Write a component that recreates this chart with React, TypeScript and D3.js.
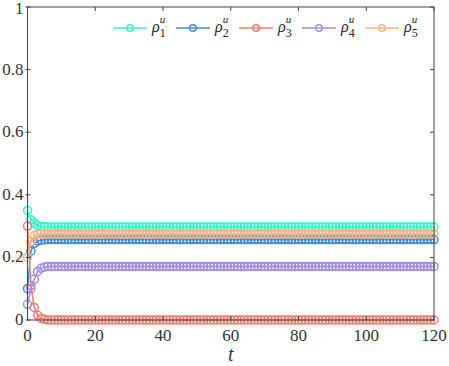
import * as d3 from 'd3';

// time steps 0..120
const tSteps = d3.range(0, 121);

// transient values (t = 0..5), then steady state
const rho1Start = [0.35, 0.32, 0.31, 0.302, 0.299, 0.298];
const rho2Start = [0.1, 0.22, 0.245, 0.252, 0.255, 0.256];
const rho3Start = [0.3, 0.11, 0.04, 0.015, 0.005, 0.002];
const rho4Start = [0.05, 0.1, 0.13, 0.155, 0.165, 0.169];
const rho5Start = [0.2, 0.25, 0.27, 0.274, 0.275, 0.275];
const steady = [0.297, 0.257, 0.0, 0.171, 0.275];

const seriesNames = ['1', '2', '3', '4', '5'];
const colors = ['#36f5c6', '#3d8fd8', '#f07c6c', '#a38ee2', '#f8b482'];
const starts = [rho1Start, rho2Start, rho3Start, rho4Start, rho5Start];

const yTicks = [0, 0.2, 0.4, 0.6, 0.8, 1];
const xTicks = [0, 20, 40, 60, 80, 100, 120];

type Pt = { t: number; v: number };
const series: Pt[][] = starts.map((s, i) =>
  tSteps.map(t => ({ t, v: t < s.length ? s[t] : steady[i] }))
);

const width = 449;
const height = 366;
const margin = { top: 7, right: 15, bottom: 46, left: 27.5 };
const font = "'Liberation Serif', 'DejaVu Serif', serif";
const axisColor = '#444';

const x = d3.scaleLinear().domain([0, 120]).range([margin.left, width - margin.right]);
const y = d3.scaleLinear().domain([0, 1]).range([height - margin.bottom, margin.top]);
const line = d3.line<Pt>().x(d => x(d.t)).y(d => y(d.v));

const App = () => {
  const [x0, x1] = x.range();
  const [y0, y1] = y.range();

  return (
    <svg width={width} height={height}
      style={{ position: 'absolute', left: 0, top: 0, fontFamily: font }}>
      {series.map((data, i) => (
        <g key={i}>
          <path d={line(data) || ''} fill="none" stroke={colors[i]} strokeWidth={1.5} />
          {data.map(d => (
            <circle key={d.t} cx={x(d.t)} cy={y(d.v)} r={4}
              fill="none" stroke={colors[i]} strokeWidth={1.5} />
          ))}
        </g>
      ))}

      {/* frame */}
      <rect x={x0} y={y1} width={x1 - x0} height={y0 - y1}
        fill="none" stroke={axisColor} strokeWidth={1} />

      {/* x ticks, inward */}
      {xTicks.map(t => (
        <g key={'x' + t}>
          <line x1={x(t)} x2={x(t)} y1={y0} y2={y0 - 4} stroke={axisColor} />
          <line x1={x(t)} x2={x(t)} y1={y1} y2={y1 + 4} stroke={axisColor} />
          <text x={x(t)} y={y0 + 21} textAnchor="middle" fontSize={17} fill="#333">{t}</text>
        </g>
      ))}

      {/* y ticks */}
      {yTicks.map(v => (
        <g key={'y' + v}>
          <line x1={x0 - 2} x2={x0 + 3} y1={y(v)} y2={y(v)} stroke={axisColor} />
          <line x1={x1} x2={x1 - 4} y1={y(v)} y2={y(v)} stroke={axisColor} />
          <text x={x0 - 4} y={Math.max(y(v) + 5, 14)} textAnchor="end" fontSize={17} fill="#333">{v}</text>
        </g>
      ))}

      {/* x label */}
      <text x={(x0 + x1) / 2} y={height - 5} textAnchor="middle"
        fontStyle="italic" fontSize={20} fill="#333">t</text>

      {/* legend */}
      <g transform="translate(113, 28)">
        {seriesNames.map((name, i) => (
          <g key={name} transform={`translate(${i * 63}, 0)`}>
            <line x1={0} x2={34} stroke={colors[i]} strokeWidth={1.5} />
            <circle cx={17} cy={0} r={3.3} fill="none" stroke={colors[i]} strokeWidth={1.4} />
            <text x={39} y={4} fontSize={16} fill="#222">
              <tspan fontStyle="italic">ρ</tspan>
              <tspan dy={5} fontSize={12}>{name}</tspan>
              <tspan dx={-6} dy={-14} fontSize={11} fontStyle="italic">u</tspan>
            </text>
          </g>
        ))}
      </g>
    </svg>
  );
};

export default App;
